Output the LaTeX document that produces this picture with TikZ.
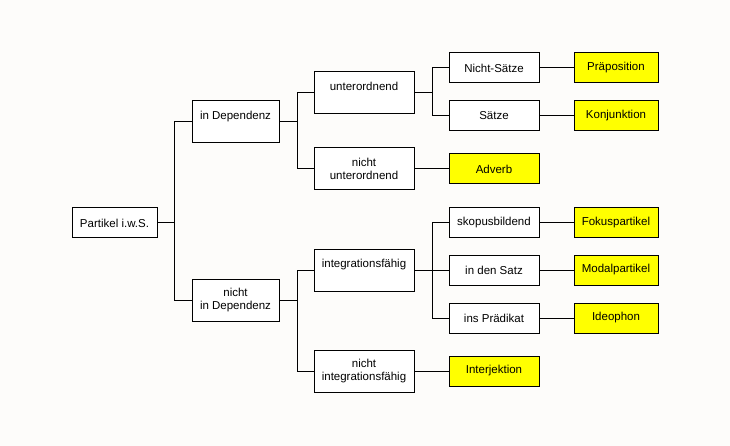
\documentclass[tikz,border=0pt]{standalone}
\usepackage{fontspec}
\setmainfont{Liberation Sans}
\usepackage{tikz}
\usetikzlibrary{positioning, calc}

\definecolor{bgpaper}{RGB}{253,252,250}
\definecolor{leafyellow}{RGB}{255,255,0}

\begin{document}
\begin{tikzpicture}[x=1pt, y=-1pt, line width=1pt,
    box/.style={draw=black, fill=white, inner sep=0pt, align=center,
        font=\fontsize{11.5}{13}\selectfont, minimum height=30pt, minimum width=90pt},
    tallbox/.style={box, minimum height=42pt, minimum width=100pt},
    leaf/.style={box, fill=leafyellow, minimum width=84pt}]

    % Hintergrund
    \fill[bgpaper] (0,0) rectangle (730,446);
    \useasboundingbox (0,0) rectangle (730,446);

    % Wurzel
    \node[box, minimum width=85pt] (root) at (114.5,223) {Partikel i.w.S.};

    % erste Ebene
    \node[tallbox, minimum width=87pt] (indep) at (235.5,122) {in Dependenz\\ \mbox{}};
    \node[tallbox, minimum width=87pt] (nindep) at (235.5,300) {nicht\\ in Dependenz};

    % zweite Ebene
    \node[tallbox] (unter) at (364,92.5) {unterordnend\\ \mbox{}};
    \node[tallbox] (nunter) at (364,169) {nicht\\ unterordnend};
    \node[tallbox] (integ) at (364,270) {integrationsfähig\\ \mbox{}};
    \node[tallbox] (ninteg) at (364,371) {nicht\\ integrationsfähig};

    % dritte Ebene
    \node[box] (nsaetze) at (494,68) {Nicht-Sätze};
    \node[box] (saetze) at (494,116) {Sätze};
    \node[leaf, minimum width=90pt] (adverb) at (494,169) {Adverb};
    \node[box] (skopus) at (494,223) {skopusbildend};
    \node[box] (satz) at (494,270) {in den Satz};
    \node[box] (praed) at (494,318) {ins Prädikat};
    \node[leaf, minimum width=90pt] (interj) at (494,371) {Interjektion};

    % Partikelklassen
    \node[leaf] (prep) at (616,68) {Präposition};
    \node[leaf] (konj) at (616,116) {Konjunktion};
    \node[leaf] (fokus) at (616,223) {Fokuspartikel};
    \node[leaf] (modal) at (616,270) {Modalpartikel};
    \node[leaf] (ideo) at (616,318) {Ideophon};

    % Verzweigungspunkte
    \coordinate (jroot) at (174.5,223);
    \coordinate (jindep) at (297.5,122);
    \coordinate (jnindep) at (297.5,300);
    \coordinate (junter) at (432.5,92.5);
    \coordinate (jinteg) at (432.5,270);

    % Verbindungen
    \draw (root.east) -- (jroot);
    \draw (indep.west) -| (jroot) |- (nindep.west);
    \draw (indep.east) -- (jindep);
    \draw (unter.west) -| (jindep) |- (nunter.west);
    \draw (nindep.east) -- (jnindep);
    \draw (integ.west) -| (jnindep) |- (ninteg.west);
    \draw (unter.east) -- (junter);
    \draw (nsaetze.west) -| (junter) |- (saetze.west);
    \draw (integ.east) -- (satz.west);
    \draw (skopus.west) -| (jinteg) |- (praed.west);
    \draw (nunter.east) -- (adverb.west);
    \draw (ninteg.east) -- (interj.west);
    \draw (nsaetze.east) -- (prep.west);
    \draw (saetze.east) -- (konj.west);
    \draw (skopus.east) -- (fokus.west);
    \draw (satz.east) -- (modal.west);
    \draw (praed.east) -- (ideo.west);

\end{tikzpicture}
\end{document}
